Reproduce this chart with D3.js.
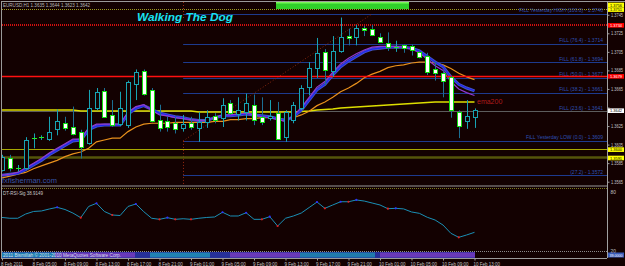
<!DOCTYPE html>
<html><head><meta charset="utf-8">
<script src="https://cdn.jsdelivr.net/npm/d3@7"></script>
<style>html,body{margin:0;padding:0;background:#130101;overflow:hidden}svg{display:block}</style>
</head><body><svg id="c" width="625" height="266"></svg>
<script>
// ---------- data ----------
const symbolTitle = "EURUSD,H1";
const chartTitle = "Walking  The Dog";
const barIndex = d3.range(1, 62);
const open  = [1.3578,1.3591,1.3580,1.3580,1.3612,1.3613,1.3611,1.3622,1.3628,1.3624,1.3619,1.3607,1.3644,1.3663,1.3637,1.3627,1.3626,1.3670,1.3684,1.3664,1.3631,1.3630,1.3628,1.3623,1.3628,1.3623,1.3629,1.3636,1.3634,1.3650,1.3638,1.3640,1.3648,1.3635,1.3634,1.3639,1.3613,1.3631,1.3645,1.3667,1.3688,1.3705,1.3684,1.3706,1.3722,1.3721,1.3731,1.3730,1.3721,1.3715,1.3710,1.3712,1.3711,1.3705,1.3701,1.3686,1.3682,1.3678,1.3640,1.3630,1.3635];
const high  = [1.3594,1.3594,1.3583,1.3613,1.3617,1.3615,1.3635,1.3643,1.3635,1.3646,1.3621,1.3664,1.3666,1.3666,1.3653,1.3662,1.3674,1.3686,1.3686,1.3666,1.3648,1.3635,1.3635,1.3637,1.3635,1.3640,1.3642,1.3639,1.3655,1.3653,1.3656,1.3660,1.3659,1.3656,1.3653,1.3651,1.3642,1.3651,1.3669,1.3694,1.3720,1.3708,1.3722,1.3742,1.3730,1.3734,1.3733,1.3734,1.3725,1.3726,1.3717,1.3713,1.3713,1.3707,1.3704,1.3694,1.3685,1.3679,1.3642,1.3653,1.3644];
const low   = [1.3576,1.3576,1.3576,1.3578,1.3601,1.3610,1.3609,1.3615,1.3620,1.3615,1.3590,1.3605,1.3642,1.3634,1.3624,1.3625,1.3623,1.3653,1.3658,1.3629,1.3619,1.3619,1.3617,1.3619,1.3621,1.3608,1.3623,1.3628,1.3624,1.3637,1.3631,1.3631,1.3626,1.3626,1.3631,1.3610,1.3608,1.3628,1.3642,1.3658,1.3677,1.3669,1.3678,1.3704,1.3712,1.3712,1.3722,1.3722,1.3715,1.3706,1.3705,1.3704,1.3701,1.3698,1.3680,1.3674,1.3656,1.3634,1.3612,1.3622,1.3623];
const close = [1.3592,1.3580,1.3580,1.3610,1.3612,1.3613,1.3619,1.3630,1.3623,1.3616,1.3602,1.3645,1.3662,1.3635,1.3626,1.3644,1.3672,1.3683,1.3660,1.3630,1.3623,1.3624,1.3622,1.3627,1.3624,1.3629,1.3635,1.3632,1.3648,1.3639,1.3642,1.3650,1.3632,1.3629,1.3636,1.3611,1.3640,1.3648,1.3666,1.3688,1.3704,1.3685,1.3706,1.3721,1.3720,1.3731,1.3729,1.3723,1.3716,1.3710,1.3710,1.3709,1.3707,1.3699,1.3683,1.3682,1.3674,1.3642,1.3625,1.3636,1.3642];

const maFast = [1.3572,1.3573,1.3575,1.3580,1.3585,1.3590,1.3596,1.3601,1.3606,1.3611,1.3611,1.3623,1.3627,1.3627,1.3627,1.3627,1.3640,1.3646,1.3648,1.3642,1.3637,1.3636,1.3634,1.3633,1.3632,1.3631,1.3631,1.3634,1.3637,1.3637,1.3638,1.3639,1.3637,1.3635,1.3634,1.3632,1.3630,1.3636,1.3645,1.3656,1.3667,1.3673,1.3683,1.3692,1.3698,1.3703,1.3707,1.3710,1.3711,1.3711,1.3711,1.3710,1.3708,1.3704,1.3697,1.3690,1.3685,1.3673,1.3665,1.3661,1.3658];
const maSlow = [1.3572,1.3573,1.3574,1.3578,1.3583,1.3588,1.3594,1.3599,1.3604,1.3609,1.3610,1.3621,1.3625,1.3626,1.3626,1.3626,1.3638,1.3644,1.3647,1.3643,1.3639,1.3637,1.3635,1.3634,1.3632,1.3631,1.3631,1.3634,1.3636,1.3636,1.3637,1.3638,1.3637,1.3636,1.3635,1.3633,1.3631,1.3635,1.3642,1.3653,1.3664,1.3670,1.3680,1.3689,1.3695,1.3700,1.3705,1.3708,1.3709,1.3710,1.3710,1.3710,1.3709,1.3706,1.3700,1.3694,1.3689,1.3678,1.3670,1.3666,1.3663];
const maOrange = [1.3569,1.3571,1.3573,1.3575,1.3579,1.3582,1.3585,1.3588,1.3592,1.3595,1.3597,1.3601,1.3608,1.3610,1.3612,1.3612,1.3619,1.3624,1.3627,1.3628,1.3628,1.3628,1.3629,1.3629,1.3629,1.3629,1.3629,1.3630,1.3630,1.3632,1.3632,1.3633,1.3633,1.3634,1.3634,1.3633,1.3632,1.3634,1.3637,1.3641,1.3647,1.3651,1.3656,1.3662,1.3666,1.3671,1.3677,1.3681,1.3684,1.3688,1.3690,1.3691,1.3693,1.3694,1.3694,1.3693,1.3691,1.3687,1.3682,1.3678,1.3675];
const ema200 = [1.36423,1.36423,1.36423,1.36423,1.36423,1.36423,1.36423,1.36423,1.36423,1.36423,1.36412,1.36412,1.36412,1.36412,1.36412,1.36412,1.36412,1.36412,1.36412,1.36412,1.36412,1.36412,1.36412,1.36412,1.36412,1.36401,1.36401,1.36401,1.36401,1.36401,1.36401,1.36401,1.36401,1.36401,1.36401,1.36401,1.36401,1.36401,1.36407,1.36412,1.36423,1.36428,1.36434,1.36445,1.36450,1.36455,1.36461,1.36466,1.36472,1.36477,1.36482,1.36488,1.36493,1.36498,1.36504,1.36509,1.36509,1.36509,1.36509,1.36509,1.36509];

const rsi = [54.1,53.3,53.3,57.6,60.2,60.7,62.7,64.4,62.2,58.6,53.9,65.3,68.5,60.2,56.6,56.1,65.3,67.8,60.0,53.3,52.2,53.9,52.2,52.8,52.2,53.3,54.1,54.6,59.4,55.6,55.6,58.9,52.2,52.2,54.9,45.4,53.3,55.6,58.6,64.2,69.8,63.4,66.8,70.1,70.1,71.9,70.8,68.8,66.8,63.0,63.4,62.8,59.7,58.3,54.3,51.5,46.4,38.0,33.9,36.3,39.0];
const rsiUpBars = [8,13,18,22,29,32,35,41,44,46,51];
const rsiDownBars = [11,15,21,23,25,34,36,42,45,50,59];
const rsiLevels = [20, 80];
const rsiName = "DT-RSI-Sig 38.9149";

const priceTicks = [1.3565,1.3585,1.3605,1.3625,1.3645,1.3665,1.3685,1.3705,1.3725,1.3745];
const dateBars = [1,5,9,13,17,21,25,29,33,37,41,45,49,53,57,61];
const dateLabels = ["8 Feb 2011","8 Feb 05:00","8 Feb 09:00","8 Feb 13:00","8 Feb 17:00","8 Feb 21:00","9 Feb 01:00","9 Feb 05:00","9 Feb 09:00","9 Feb 13:00","9 Feb 17:00","9 Feb 21:00","10 Feb 01:00","10 Feb 05:00","10 Feb 09:00","10 Feb 13:00"];

const fibNames = ["FiLL Yesterday HIGH (100.0)","FiLL (76.4)","FiLL (61.8)","FiLL (50.0)","FiLL (38.2)","FiLL (23.6)","FiLL Yesterday LOW (0.0)","(27.2)"];
const fibPrices = [1.3746,1.3714,1.3694,1.3677,1.3661,1.3641,1.3609,1.3572];
const fibStartBar = 24, fibEndBar = 48, fibLow = 1.3609, fibHigh = 1.3746;

const yellowLevels = [1.3751, 1.3600];
const olivLevel = 1.3591;
const redDotLevel = 1.3734;
const redLevel = 1.3679;
const bidPrice = 1.3642;
const tagPrices = [1.3756, 1.3751, 1.3734, 1.3679, 1.3642, 1.3600, 1.3591];
const tagKinds  = ["y","y","r","r","w","y","y"];

// ---------- drawing ----------
const svg = d3.select("#c");
const BG = "#130101";
const W = 625, H = 266, RIGHT = 607, LEFT = 2, TOP = 2, MAINB = 185.5;
const font = "'Liberation Sans', Arial, sans-serif";
svg.append("rect").attr("width", W).attr("height", H).attr("fill", BG);

const x = d3.scaleLinear().domain([1, 61]).range([2, 474.5]);
const y = d3.scaleLinear().domain([1.3565, 1.3725]).range([181.7, 33.3]);
const ry = d3.scaleLinear().domain([20, 80]).range([251, 192]);
const px = v => Math.round(v) + 0.5;

const defs = svg.append("defs");
defs.append("clipPath").attr("id", "mainclip").append("rect")
  .attr("x", LEFT).attr("y", TOP).attr("width", RIGHT - LEFT).attr("height", MAINB - TOP);
const main = svg.append("g").attr("clip-path", "url(#mainclip)");

// green bar
svg.append("rect").attr("x", 276).attr("y", 1).attr("width", 133).attr("height", 8).attr("fill", "#2fd02a");
svg.append("rect").attr("x", 276).attr("y", 1).attr("width", 133).attr("height", 2.5).attr("fill", "#7cf35a");

// frame
svg.append("line").attr("x1", 1).attr("x2", W).attr("y1", 1.5).attr("y2", 1.5).attr("stroke", "#9a9a9a");
svg.append("line").attr("x1", 1.5).attr("x2", 1.5).attr("y1", 1).attr("y2", 258).attr("stroke", "#9a9a9a");

// top dotted olive line
main.append("line").attr("x1", LEFT).attr("x2", RIGHT).attr("y1", px(y(yellowLevels[0]))).attr("y2", px(y(yellowLevels[0])))
  .attr("stroke", "#9c9a20").attr("stroke-dasharray", "1,1");
// red dotted
main.append("line").attr("x1", LEFT).attr("x2", RIGHT).attr("y1", y(redDotLevel)).attr("y2", y(redDotLevel))
  .attr("stroke", "#d01010").attr("stroke-width", 2).attr("stroke-dasharray", "1,1");

// fib lines
const fx0 = x(fibStartBar);
fibPrices.forEach((p, i) => {
  main.append("line").attr("x1", fx0).attr("x2", RIGHT).attr("y1", px(y(p))).attr("y2", px(y(p)))
    .attr("stroke", "#1d3a8e").attr("stroke-width", 1);
  main.append("text").attr("x", 603).attr("y", y(p) - 1.5).attr("text-anchor", "end")
    .attr("font-family", font).attr("font-size", 5).attr("fill", "#2e50b4")
    .text(fibNames[i] + " - " + p.toFixed(4));
});
// fib diagonal + verticals
main.append("line").attr("x1", x(fibStartBar)).attr("y1", y(fibLow)).attr("x2", x(fibEndBar)).attr("y2", y(fibHigh))
  .attr("stroke", "#8a2a10").attr("stroke-dasharray", "1,2");
main.append("line").attr("x1", px(x(fibStartBar))).attr("x2", px(x(fibStartBar))).attr("y1", TOP).attr("y2", y(fibHigh) + 6)
  .attr("stroke", "#9a2a10").attr("stroke-dasharray", "1,2");
main.append("line").attr("x1", px(x(fibStartBar))).attr("x2", px(x(fibStartBar))).attr("y1", y(fibLow)).attr("y2", MAINB)
  .attr("stroke", "#9a2a10").attr("stroke-dasharray", "1,2");

// yellow levels
main.append("line").attr("x1", LEFT).attr("x2", RIGHT).attr("y1", px(y(yellowLevels[1]))).attr("y2", px(y(yellowLevels[1])))
  .attr("stroke", "#a8a800").attr("stroke-width", 1.2);
main.append("line").attr("x1", LEFT).attr("x2", RIGHT).attr("y1", y(olivLevel)).attr("y2", y(olivLevel))
  .attr("stroke", "#55540a").attr("stroke-width", 2.5);
// bid line
main.append("line").attr("x1", LEFT).attr("x2", RIGHT).attr("y1", px(y(bidPrice)) + 1).attr("y2", px(y(bidPrice)) + 1)
  .attr("stroke", "#5c5c5c").attr("stroke-width", 1);

// moving averages
const line = d3.line().x((d, i) => x(barIndex[i])).y(d => y(d)).curve(d3.curveLinear);
main.append("path").attr("d", line(ema200)).attr("fill", "none").attr("stroke", "#dede00").attr("stroke-width", 1.6);
main.append("path").attr("d", line(maOrange)).attr("fill", "none").attr("stroke", "#e8901c").attr("stroke-width", 1.2);
main.append("path").attr("d", line(maSlow)).attr("fill", "none").attr("stroke", "#4558c0").attr("stroke-width", 3);
main.append("path").attr("d", line(maSlow)).attr("fill", "none").attr("stroke", "#2222f0").attr("stroke-width", 1.2);
main.append("path").attr("d", line(maFast)).attr("fill", "none").attr("stroke", "#9038d0").attr("stroke-width", 1.2);

// red solid level
main.append("line").attr("x1", LEFT).attr("x2", RIGHT).attr("y1", px(y(redLevel))).attr("y2", px(y(redLevel)))
  .attr("stroke", "#ff1010").attr("stroke-width", 1.4);

// candles
const candles = main.append("g");
barIndex.forEach((k, i) => {
  const cx = px(x(k));
  const o = open[i], c = close[i];
  const bull = c > o, doji = c === o;
  candles.append("line").attr("x1", cx).attr("x2", cx).attr("y1", y(high[i])).attr("y2", y(low[i]))
    .attr("stroke", bull || doji ? "#17a3b3" : "#1c6f93").attr("stroke-width", 1);
  if (doji) {
    candles.append("line").attr("x1", cx - 2.5).attr("x2", cx + 2.5).attr("y1", px(y(o))).attr("y2", px(y(o)))
      .attr("stroke", "#22ee22");
  } else {
    const top = Math.round(y(Math.max(o, c))), bot = Math.round(y(Math.min(o, c)));
    candles.append("rect").attr("x", cx - 2).attr("y", top + 0.5).attr("width", 4).attr("height", Math.max(1, bot - top))
      .attr("fill", bull ? BG : "#ffffff").attr("stroke", bull ? "#17a3b3" : "#10e010").attr("stroke-width", 1);
  }
});

// texts
svg.append("text").attr("x", 3).attr("y", 7).attr("font-family", font).attr("font-size", 5).attr("fill", "#b8b8b8")
  .attr("textLength", 87).attr("lengthAdjust", "spacingAndGlyphs")
  .text(symbolTitle + "  " + [open[60], high[60], low[60], close[60]].map(v => v.toFixed(4)).join(" "));
svg.append("text").attr("x", 137).attr("y", 21).attr("font-family", font).attr("font-size", 11.5).attr("font-weight", "bold")
  .attr("font-style", "italic").attr("fill", "#18e2f2").attr("textLength", 96).attr("lengthAdjust", "spacingAndGlyphs")
  .text(chartTitle);
main.append("text").attr("x", 477).attr("y", y(ema200[60]) + 2).attr("font-family", font).attr("font-size", 7)
  .attr("fill", "#b01c1c").text("ema200");
main.append("text").attr("x", 2).attr("y", 183).attr("font-family", font).attr("font-size", 7.5)
  .attr("fill", "#3556a8").text("fxfisherman.com");

// pane separators
svg.append("line").attr("x1", 1).attr("x2", RIGHT).attr("y1", 186).attr("y2", 186).attr("stroke", "#9a9a9a");
svg.append("line").attr("x1", 2).attr("x2", RIGHT).attr("y1", 188.5).attr("y2", 188.5).attr("stroke", "#7a7820").attr("stroke-dasharray", "1,1");

// right price axis (labels hidden behind a price tag are not drawn)
const hidden = v => tagPrices.some(p => Math.abs(y(p) - y(v)) < 3.5);
const yAxis = d3.axisRight(y).tickValues(priceTicks).tickFormat(v => hidden(v) ? "" : d3.format(".4f")(v)).tickSize(2).tickPadding(1.5);
const ga = svg.append("g").attr("transform", `translate(${RIGHT + 0.5},0)`).call(yAxis);
ga.select(".domain").attr("stroke", "#a0a0a0").attr("d", `M0,1V258`);
ga.selectAll(".tick line").attr("stroke", "#a0a0a0");
ga.selectAll("text").attr("fill", "#c4c4c4").attr("font-size", 4.8).attr("font-family", font)
  .attr("textLength", 12).attr("lengthAdjust", "spacingAndGlyphs").attr("dy", "0.3em");

// price tags
const tagCol = {y: ["#ffff00", "#000"], r: ["#ff0000", "#fff"], w: ["#ffffff", "#000"]};
tagPrices.forEach((p, i) => {
  const yy = y(p) + 0.4;
  svg.append("rect").attr("x", 608).attr("y", yy - 2.3).attr("width", 16).attr("height", 4.6).attr("fill", tagCol[tagKinds[i]][0]);
  svg.append("text").attr("x", 610).attr("y", yy + 1.6).attr("font-family", font).attr("font-size", 4.3)
    .attr("textLength", 12).attr("lengthAdjust", "spacingAndGlyphs")
    .attr("fill", tagCol[tagKinds[i]][1]).text(p.toFixed(4));
});

// RSI pane
const rline = d3.line().x((d, i) => x(barIndex[i])).y(d => ry(d));
svg.append("path").attr("d", rline(rsi)).attr("fill", "none").attr("stroke", "#1a8fb5").attr("stroke-width", 1);
svg.selectAll("circle.up").data(rsiUpBars).join("circle").attr("class", "up")
  .attr("cx", k => x(k)).attr("cy", k => ry(rsi[k - 1])).attr("r", 1.1).attr("fill", "#3030ff");
svg.selectAll("circle.dn").data(rsiDownBars).join("circle").attr("class", "dn")
  .attr("cx", k => x(k)).attr("cy", k => ry(rsi[k - 1])).attr("r", 1.1).attr("fill", "#e02020");
svg.append("text").attr("x", 3).attr("y", 195).attr("font-family", font).attr("font-size", 5).attr("fill", "#c8c8c8")
  .attr("textLength", 40).attr("lengthAdjust", "spacingAndGlyphs").text(rsiName);
const rAxis = d3.axisRight(ry).tickValues(rsiLevels).tickSize(0).tickPadding(3);
const gr = svg.append("g").attr("transform", `translate(${RIGHT + 0.5},0)`).call(rAxis);
gr.select(".domain").remove();
gr.selectAll("text").attr("fill", "#c4c4c4").attr("font-size", 4.8).attr("font-family", font);
svg.append("line").attr("x1", 2).attr("x2", RIGHT).attr("y1", 251.5).attr("y2", 251.5).attr("stroke", "#8a8a8a").attr("stroke-dasharray", "1,1");

// copyright band
const band = svg.append("g");
band.append("rect").attr("x", 2).attr("y", 252).attr("width", 473).attr("height", 6).attr("fill", "#26309a");
[[2, 60, "#1f97b8"], [55, 80, "#7a3cc0"], [150, 60, "#1f97b8"], [230, 70, "#7a3cc0"], [300, 75, "#1f8fb0"], [380, 95, "#7a3cc0"]]
  .forEach(s => band.append("rect").attr("x", s[0]).attr("y", 252.5).attr("width", s[1]).attr("height", 5).attr("fill", s[2]).attr("opacity", 0.8));
band.append("text").attr("x", 3).attr("y", 257).attr("font-family", font).attr("font-size", 4.8).attr("fill", "#d0d8e8")
  .attr("textLength", 118).attr("lengthAdjust", "spacingAndGlyphs")
  .text("2011 Bismillah  \u00a9 2001-2010 MetaQuotes Software Corp.");
svg.append("rect").attr("x", 608).attr("y", 252.5).attr("width", 16).attr("height", 5).attr("fill", "#3a5ab8");
svg.append("text").attr("x", 609.5).attr("y", 256.6).attr("font-family", font).attr("font-size", 4.3).attr("fill", "#fff")
  .attr("textLength", 13).attr("lengthAdjust", "spacingAndGlyphs").text(rsi[60].toFixed(4));

// date axis
const xAxis = d3.axisBottom(x).tickValues(dateBars).tickFormat((d, i) => dateLabels[i]).tickSize(2).tickPadding(1.5);
const gx = svg.append("g").attr("transform", "translate(0,258.5)").call(xAxis);
gx.select(".domain").attr("stroke", "#9a9a9a").attr("d", `M1,0H${RIGHT}`);
gx.selectAll(".tick line").attr("stroke", "#a0a0a0");
gx.selectAll("text").attr("fill", "#c4c4c4").attr("font-size", 5).attr("font-family", font)
  .attr("text-anchor", "start").attr("dx", -1.5)
  .attr("textLength", (d, i) => dateLabels[i].length * 2.2).attr("lengthAdjust", "spacingAndGlyphs");
</script></body></html>
